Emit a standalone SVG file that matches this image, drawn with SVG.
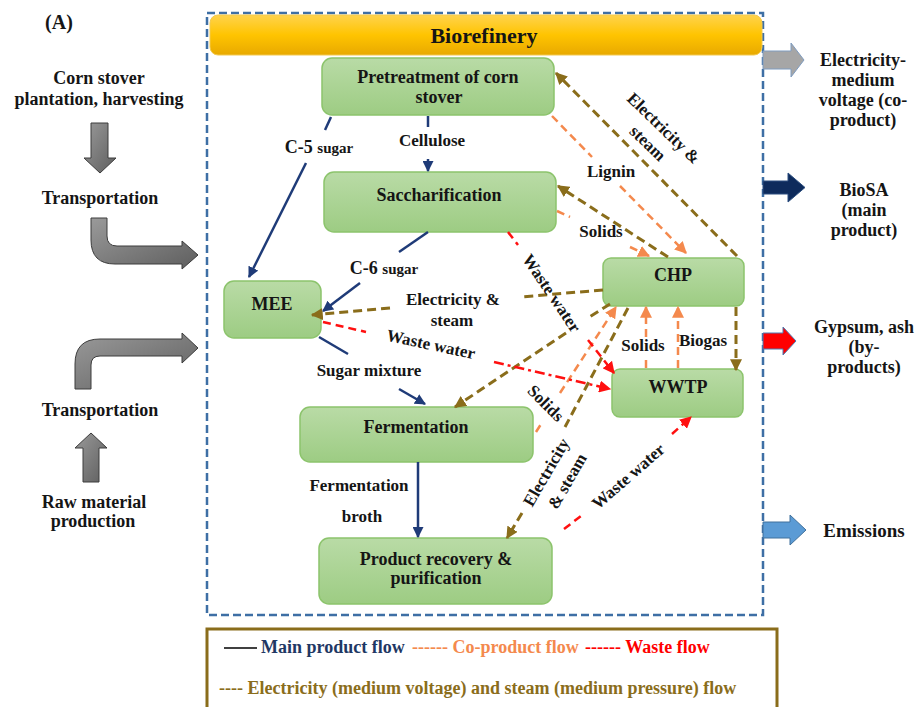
<svg xmlns="http://www.w3.org/2000/svg" width="917" height="707" viewBox="0 0 917 707">
  <defs>
    <linearGradient id="gGreen" x1="0" y1="0" x2="0" y2="1">
      <stop offset="0" stop-color="#b9dba6"/>
      <stop offset="1" stop-color="#9dcc83"/>
    </linearGradient>
    <linearGradient id="gGold" x1="0" y1="0" x2="0" y2="1">
      <stop offset="0" stop-color="#ffd34d"/>
      <stop offset="0.5" stop-color="#ffc400"/>
      <stop offset="1" stop-color="#e8a900"/>
    </linearGradient>
    <linearGradient id="gGray" x1="0" y1="0" x2="1" y2="1">
      <stop offset="0" stop-color="#9a9a9a"/>
      <stop offset="1" stop-color="#5e5e5e"/>
    </linearGradient>
    <marker id="ahNavy" viewBox="0 0 10 10" refX="9" refY="5" markerWidth="11" markerHeight="11" markerUnits="userSpaceOnUse" orient="auto">
      <path d="M0,0 L10,5 L0,10 z" fill="#1f3b78"/>
    </marker>
    <marker id="ahOrange" viewBox="0 0 10 10" refX="9" refY="5" markerWidth="12" markerHeight="12" markerUnits="userSpaceOnUse" orient="auto">
      <path d="M0,0 L10,5 L0,10 z" fill="#f4894d"/>
    </marker>
    <marker id="ahOlive" viewBox="0 0 10 10" refX="9" refY="5" markerWidth="12" markerHeight="12" markerUnits="userSpaceOnUse" orient="auto">
      <path d="M0,0 L10,5 L0,10 z" fill="#8a6d1b"/>
    </marker>
    <marker id="ahRed" viewBox="0 0 10 10" refX="9" refY="5" markerWidth="12" markerHeight="12" markerUnits="userSpaceOnUse" orient="auto">
      <path d="M0,0 L10,5 L0,10 z" fill="#ff1010"/>
    </marker>
  </defs>
  <style>
    text { font-family: 'Liberation Serif', 'Times New Roman', 'DejaVu Serif', serif; font-weight: bold; fill: #151515; }
    .c { text-anchor: middle; }
    .f18 { font-size: 18px; }
    .f17 { font-size: 17px; }
    .box { fill: url(#gGreen); stroke: #8cc46c; stroke-width: 1.5; }
    .main { stroke: #1f3b78; stroke-width: 2.5; fill: none; }
    .co { stroke: #f4894d; stroke-width: 2.5; stroke-dasharray: 8 5; fill: none; }
    .elec { stroke: #8a6d1b; stroke-width: 3; stroke-dasharray: 9 5; fill: none; }
    .waste { stroke: #ff1010; stroke-width: 2.5; stroke-dasharray: 8 5; fill: none; }
    .dashdot { stroke-dasharray: 10 4 3 4; }
    .garrow { fill: url(#gGray); stroke: #3c3c3c; stroke-width: 1; }
  </style>

  <rect width="917" height="707" fill="#ffffff"/>

  <!-- panel label -->
  <text x="59" y="29" class="c" font-size="20">(A)</text>

  <!-- upstream supply chain (left) -->
  <g id="upstream">
    <text x="99" y="84" class="c f18">Corn stover</text>
    <text x="99" y="105" class="c f18">plantation, harvesting</text>
    <path class="garrow" d="M91,123 H108 V158 H116 L100,173 L84,158 H91 Z"/>
    <text x="100" y="204" class="c f18">Transportation</text>
    <path class="garrow" d="M91,218 H107 V236 Q107,246 117,246 H182 V241 L198,255 L182,269 V264 H115 Q91,264 91,240 Z"/>
    <path class="garrow" d="M75,389 V364 Q75,339 100,339 H182 V333 L198,348 L182,363 V356 H100 Q91,356 91,365 V389 Z"/>
    <text x="100" y="416" class="c f18">Transportation</text>
    <path class="garrow" d="M91,433 L107,448 H99 V482 H83 V448 H75 Z"/>
    <text x="94" y="508" class="c f18">Raw material</text>
    <text x="93" y="527" class="c f18">production</text>
  </g>

  <!-- biorefinery boundary -->
  <rect x="207" y="13" width="556" height="602" fill="none" stroke="#3e6fa5" stroke-width="2.5" stroke-dasharray="8 4"/>
  <g id="biorefinery">
    <rect x="210" y="15" width="552" height="40" rx="8" fill="url(#gGold)" stroke="#f3c94f" stroke-width="1"/>
    <text x="484" y="43" class="c" font-size="22">Biorefinery</text>
  </g>

  <!-- process units -->
  <g id="pretreatment">
    <rect class="box" x="322" y="58" width="232" height="57" rx="10"/>
    <text x="438" y="83" class="c f18">Pretreatment of corn</text>
    <text x="439" y="103" class="c f18">stover</text>
  </g>
  <g id="saccharification">
    <rect class="box" x="324" y="172" width="232" height="60" rx="10"/>
    <text x="439" y="201" class="c f18">Saccharification</text>
  </g>
  <g id="mee">
    <rect class="box" x="224" y="281" width="97" height="57" rx="10"/>
    <text x="272" y="310" class="c f18">MEE</text>
  </g>
  <g id="chp">
    <rect class="box" x="603" y="258" width="141" height="48" rx="8"/>
    <text x="673" y="281" class="c f18">CHP</text>
  </g>
  <g id="wwtp">
    <rect class="box" x="612" y="369" width="131" height="48" rx="8"/>
    <text x="678" y="393" class="c f18">WWTP</text>
  </g>
  <g id="fermentation">
    <rect class="box" x="300" y="407" width="233" height="55" rx="10"/>
    <text x="416" y="433" class="c f18">Fermentation</text>
  </g>
  <g id="recovery">
    <rect class="box" x="319" y="538" width="233" height="66" rx="10"/>
    <text x="436" y="565" class="c f18">Product recovery &amp;</text>
    <text x="436" y="584" class="c f18">purification</text>
  </g>

  <!-- flows -->
  <g id="connectors">
    <!-- main product flow -->
    <path class="main" d="M331,117 L325,130"/>
    <path class="main" d="M306,163 L249,277" marker-end="url(#ahNavy)"/>
    <path class="main" d="M428,116 V127"/>
    <path class="main" d="M428,159 V171" marker-end="url(#ahNavy)"/>
    <path class="main" d="M428,232 L399,252"/>
    <path class="main" d="M360,283 L323,311" marker-end="url(#ahNavy)"/>
    <path class="main" d="M319,337 L348,354"/>
    <path class="main" d="M399,389 L425,404" marker-end="url(#ahNavy)"/>
    <path class="main" d="M418,462 V537" marker-end="url(#ahNavy)"/>

    <!-- co-product flow -->
    <path class="co" d="M552,116 L592,157"/>
    <path class="co" d="M620,186 L686,253" marker-end="url(#ahOrange)"/>
    <path class="co" d="M557,211 L570,217"/>
    <path class="co" d="M630,247 L649,256" marker-end="url(#ahOrange)"/>
    <path class="co" d="M646,368 V358"/>
    <path class="co" d="M646,337 V307" marker-end="url(#ahOrange)"/>
    <path class="co" d="M678,368 V307" marker-end="url(#ahOrange)"/>
    <path class="co" d="M536,432 L543,421"/>
    <path class="co" d="M560,393 L616,307" marker-end="url(#ahOrange)"/>

    <!-- electricity and steam -->
    <path class="elec" d="M737,256 L556,73" marker-end="url(#ahOlive)"/>
    <path class="elec" d="M668,257 L558,186" marker-end="url(#ahOlive)"/>
    <path class="elec" d="M603,290 L520,297"/>
    <path class="elec" d="M390,308 L312,315" marker-end="url(#ahOlive)"/>
    <path class="elec" d="M610,304 L588,318"/>
    <path class="elec" d="M566,333 L455,407" marker-end="url(#ahOlive)"/>
    <path class="elec" d="M628,308 L565,427"/>
    <path class="elec" d="M522,513 L507,538" marker-end="url(#ahOlive)"/>
    <path class="elec" d="M736,307 V370" marker-end="url(#ahOlive)"/>

    <!-- waste flow -->
    <path class="waste" d="M508,232 L518,245"/>
    <path class="waste" d="M588,340 L614,373" marker-end="url(#ahRed)"/>
    <path class="waste" d="M323,322 L366,332"/>
    <path class="waste dashdot" d="M494,362 L610,389" marker-end="url(#ahRed)"/>
    <path class="waste" d="M564,529 L581,516"/>
    <path class="waste" d="M672,434 L691,417" marker-end="url(#ahRed)"/>

    <!-- flow labels -->
    <text x="319" y="153" class="c f18">C-5 <tspan font-size="15">sugar</tspan></text>
    <text x="432" y="146" class="c f17">Cellulose</text>
    <text x="384" y="274" class="c f18">C-6 <tspan font-size="15">sugar</tspan></text>
    <text x="369" y="376" class="c f17">Sugar mixture</text>
    <text x="359" y="491" class="c f17">Fermentation</text>
    <text x="362" y="522" class="c f17">broth</text>
    <text x="611" y="177" class="c f17">Lignin</text>
    <text x="601" y="237" class="c f17">Solids</text>
    <text x="643" y="351" class="c f17">Solids</text>
    <text x="703" y="346" class="c f17">Biogas</text>
    <text x="453" y="305" class="c f17">Electricity &amp;</text>
    <text x="452" y="326" class="c f17">steam</text>
    <text transform="translate(664,128) rotate(44)" y="6" class="c f17">Electricity &amp;</text>
    <text transform="translate(648,143) rotate(44)" y="6" class="c f17">steam</text>
    <text transform="translate(552,293) rotate(56)" y="6" class="c f17">Waste water</text>
    <text transform="translate(431,344) rotate(12)" y="6" class="c f17">Waste water</text>
    <text transform="translate(628,476) rotate(-41)" y="6" class="c f17">Waste water</text>
    <text transform="translate(546,403) rotate(45)" y="6" class="c f17">Solids</text>
    <text transform="translate(546,472) rotate(-60)" y="6" class="c f17">Electricity</text>
    <text transform="translate(567,481) rotate(-60)" y="6" class="c f17">&amp; steam</text>
  </g>

  <!-- outputs (right) -->
  <g id="outputs">
    <path d="M763,51 H791 V43 L804,60 L791,77 V69 H763 Z" fill="#a6a6a6" stroke="#7f9cc0" stroke-width="1"/>
    <text x="863" y="66" class="c f18">Electricity-</text>
    <text x="863" y="86" class="c f18">medium</text>
    <text x="863" y="106" class="c f18">voltage (co-</text>
    <text x="863" y="126" class="c f18">product)</text>
    <path d="M763,181 H788 V173 L805,187.5 L788,202 V194 H763 Z" fill="#0e2b5c" stroke="#2c4f80" stroke-width="1"/>
    <text x="864" y="196" class="c f18">BioSA</text>
    <text x="864" y="216" class="c f18">(main</text>
    <text x="864" y="236" class="c f18">product)</text>
    <path d="M763,333 H783 V327 L796,341 L783,355 V349 H763 Z" fill="#ff0000" stroke="#4f79b0" stroke-width="1"/>
    <text x="864" y="333" class="c f18">Gypsum, ash</text>
    <text x="864" y="353" class="c f18">(by-</text>
    <text x="864" y="373" class="c f18">products)</text>
    <path d="M763,522 H790 V515 L806,530 L790,545 V538 H763 Z" fill="#5b9bd5" stroke="#41719c" stroke-width="1"/>
    <text x="864" y="537" class="c" font-size="19">Emissions</text>
  </g>

  <!-- legend -->
  <g id="legend">
    <rect x="207" y="629" width="570" height="90" fill="#ffffff" stroke="#8a6d1b" stroke-width="3"/>
    <line x1="224" y1="648" x2="257" y2="648" stroke="#000000" stroke-width="1.5"/>
    <text x="261" y="653" class="f18" style="fill:#1f3864">Main product flow</text>
    <text x="412" y="653" class="f18" style="fill:#f4894d">------ Co-product flow</text>
    <text x="585" y="653" class="f18" style="fill:#ff0000">------ Waste flow</text>
    <text x="219" y="694" class="f18" style="fill:#8a6d1b">---- Electricity (medium voltage) and steam (medium pressure) flow</text>
  </g>
</svg>
